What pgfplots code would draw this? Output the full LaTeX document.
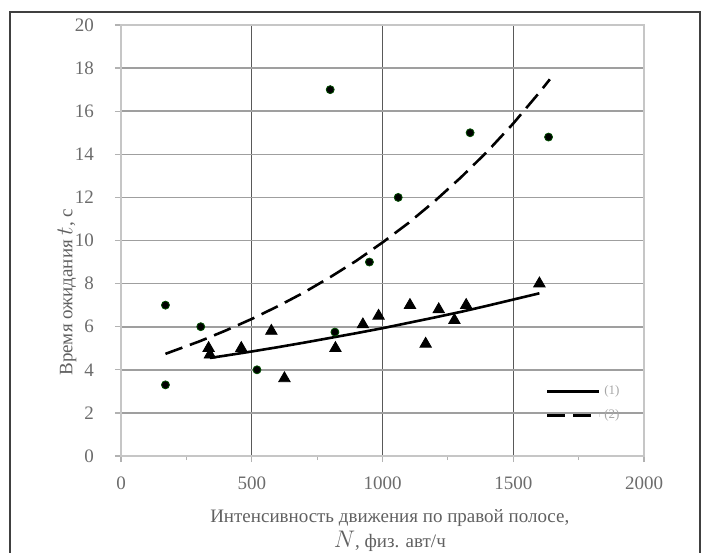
\documentclass[border=0pt]{standalone}
\usepackage{pgfplots}
\pgfplotsset{compat=1.18}
\usepackage{fontspec}
\setmainfont{Liberation Serif}
\begin{document}
\begin{tikzpicture}
\useasboundingbox (-60.5pt,-48pt) rectangle (292.5pt,228pt);
\draw[black!75, line width=0.8pt] (-55.5pt,-60pt) -- (-55.5pt,222pt) -- (289.5pt,222pt) -- (289.5pt,-60pt);
\begin{axis}[
  at={(0,0)}, anchor=south west,
  scale only axis, width=261.5pt, height=215.5pt,
  xmin=0, xmax=2000, ymin=0, ymax=20,
  xtick={0,500,1000,1500,2000}, ytick={0,2,...,20},
  minor xtick={250,750,1250,1750},
  axis line style={gray!45, line width=1.2pt},
  tick style={gray!60, line width=0.6pt},
  major tick length=3pt, minor tick length=2pt,
  tick align=outside, xtick pos=bottom, ytick pos=left,
  major y grid style={gray!75, line width=0.8pt},
  major x grid style={black!65, line width=0.7pt},
  ymajorgrids, xmajorgrids,
  /pgf/number format/assume math mode=true,
  /pgf/number format/1000 sep={},
  ticklabel style={font=\fontsize{9.5}{10}\selectfont, text=gray!85!black},
  xticklabel style={yshift=-4pt},
  yticklabel style={xshift=-7pt},
  xlabel={Интенсивность движения по правой полосе,\\[1.5pt]{\fontsize{12}{12}\selectfont$N$}, физ. авт/ч},
  xlabel style={at={(axis description cs:0.514,0)}, anchor=north, yshift=-23pt, align=center, font=\fontsize{9.5}{10}\selectfont, text=gray!75!black},
  ylabel={Время ожидания {\fontsize{13}{13}\selectfont$t$}, с},
  ylabel style={at={(axis description cs:-0.103,0.38)}, anchor=center, font=\fontsize{9.5}{11}\selectfont, text=gray!75!black},
  legend style={at={(axis description cs:0.8,0.06)}, anchor=south west, draw=none, fill=none, font=\fontsize{6.5}{7}\selectfont, text=gray!70, row sep=2pt},
  legend cell align=left,
  legend image code/.code={\draw[#1] (0pt,0pt) -- (26pt,0pt);},
]
\addplot[black, line width=1.3pt] coordinates {
(340,4.55) (400,4.66) (500,4.85) (600,5.05) (700,5.26) (800,5.48) (900,5.70) (1000,5.93) (1100,6.18) (1200,6.43) (1300,6.69) (1400,6.97) (1500,7.26) (1600,7.55)};
\addlegendentry{(1)}
\addplot[black, line width=1.3pt, dash pattern=on 9pt off 4pt] coordinates {
(170,4.74) (300,5.32) (400,5.82) (500,6.36) (600,6.95) (700,7.59) (800,8.30) (900,9.06) (1000,9.91) (1100,10.82) (1200,11.83) (1300,12.93) (1400,14.12) (1500,15.43) (1600,16.87) (1640,17.48)};
\addlegendentry{(2)}
\addplot[only marks, mark=*, mark size=2pt, mark options={fill=black, draw=black!70!green}, forget plot] coordinates {
(170,7.0) (170,3.3) (305,6.0) (520,4.0) (800,17.0) (818,5.75) (950,9.0) (1060,12.0) (1335,15.0) (1635,14.8)};
\addplot[only marks, mark=triangle*, mark size=3.3pt, mark options={fill=black, draw=black}, forget plot] coordinates {
(335,5.0) (340,4.7) (460,5.0) (575,5.8) (625,3.6) (820,5.0) (925,6.1) (985,6.5) (1105,7.0) (1165,5.2) (1215,6.8) (1275,6.3) (1320,7.0) (1600,8.0)};
\end{axis}
\end{tikzpicture}
\end{document}
